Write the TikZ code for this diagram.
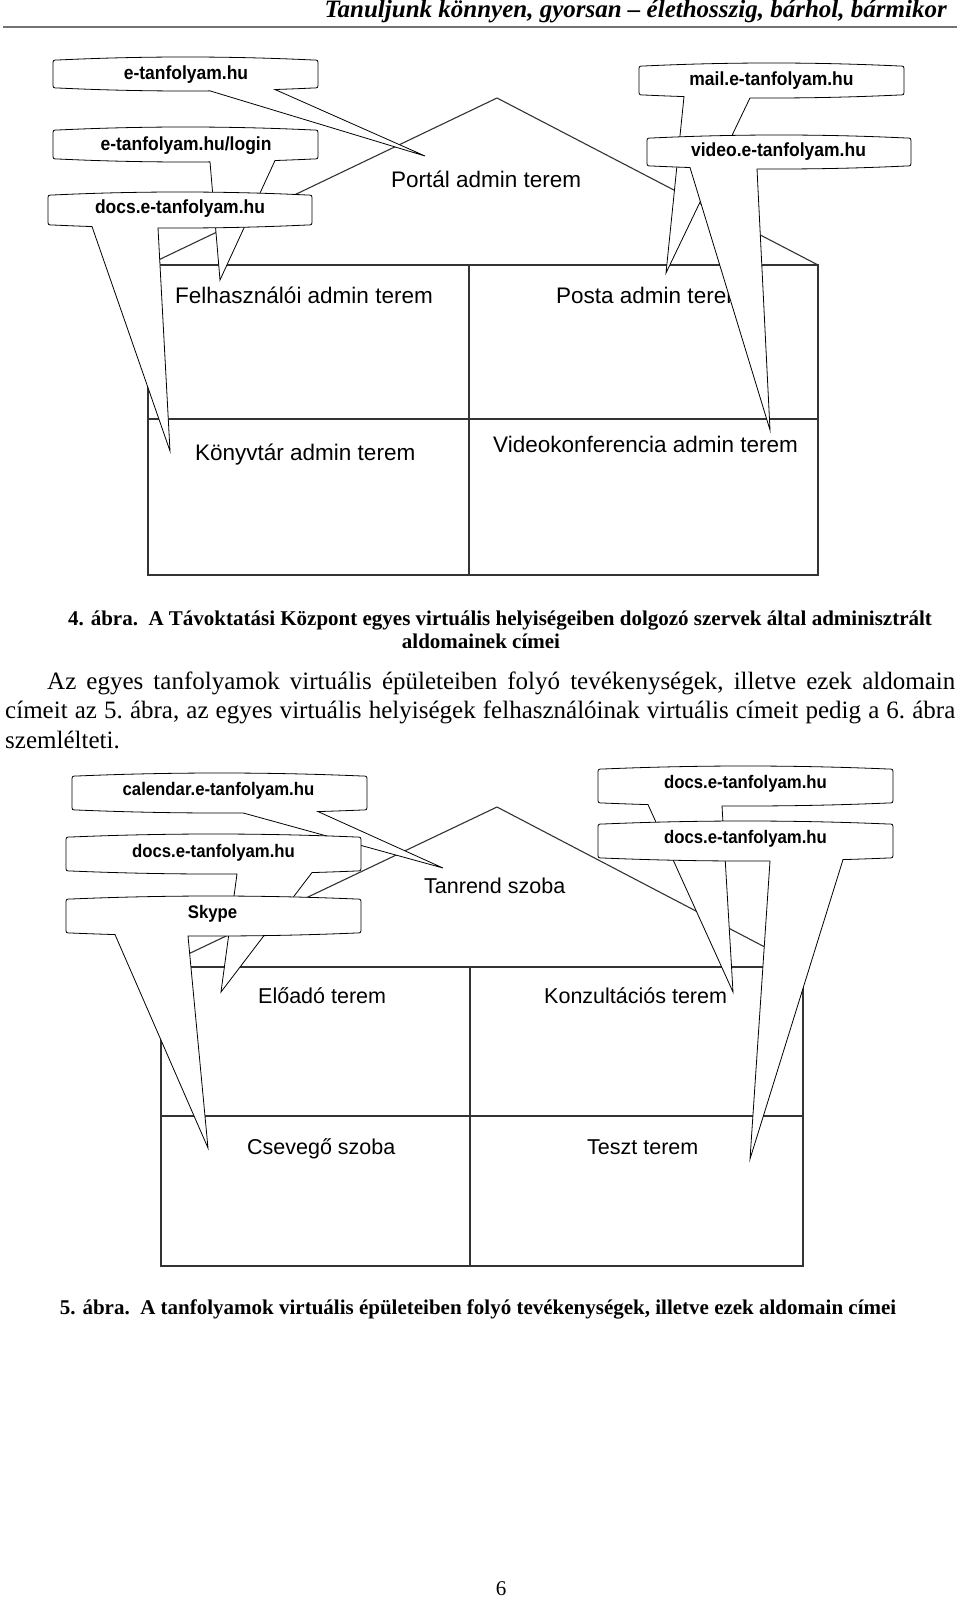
\documentclass[tikz,border=0pt]{standalone}
\usepackage{fontspec}
\usetikzlibrary{calc}
\setmainfont{Liberation Serif}
\newfontfamily\arial{Liberation Sans}
\newfontfamily\arialc[FakeStretch=0.92]{Liberation Sans}
\def\Bbow{3}
\def\Brad{5}
\newcommand\balloonshape[8]{%
  \pgfmathsetmacro\Bxc{(#1+#3)/2}%
  \pgfmathsetmacro\Bh{(#3-#1)/2-\Brad}%
  \pgfmathsetmacro\uR{(#6-\Bxc)/\Bh}%
  \pgfmathsetmacro\yR{#4-\Bbow*\uR*\uR}%
  \pgfmathsetmacro\qRx{(#3-\Brad+#6)/2}%
  \pgfmathsetmacro\qRy{#4-\Bbow+\Bbow*(#3-\Brad-#6)/\Bh}%
  \pgfmathsetmacro\uL{(#5-\Bxc)/\Bh}%
  \pgfmathsetmacro\yL{#4-\Bbow*\uL*\uL}%
  \pgfmathsetmacro\qLx{(#1+\Brad+#5)/2}%
  \pgfmathsetmacro\qLy{#4-\Bbow+\Bbow*(#5-#1-\Brad)/\Bh}%
  \path[balloon] (#1,#2+\Bbow+\Brad)
    .. controls (#1,#2+\Bbow) .. (#1+\Brad,#2+\Bbow)
    .. controls ($(#1+\Brad,#2+\Bbow)!0.667!(\Bxc,#2-\Bbow)$) and ($(#3-\Brad,#2+\Bbow)!0.667!(\Bxc,#2-\Bbow)$) .. (#3-\Brad,#2+\Bbow)
    .. controls (#3,#2+\Bbow) .. (#3,#2+\Bbow+\Brad)
    -- (#3,#4-\Bbow-\Brad)
    .. controls (#3,#4-\Bbow) .. (#3-\Brad,#4-\Bbow)
    .. controls ($(#3-\Brad,#4-\Bbow)!0.667!(\qRx,\qRy)$) and ($(#6,\yR)!0.667!(\qRx,\qRy)$) .. (#6,\yR)
    -- (#7,#8)
    -- (#5,\yL)
    .. controls ($(#5,\yL)!0.667!(\qLx,\qLy)$) and ($(#1+\Brad,#4-\Bbow)!0.667!(\qLx,\qLy)$) .. (#1+\Brad,#4-\Bbow)
    .. controls (#1,#4-\Bbow) .. (#1,#4-\Bbow-\Brad)
    -- cycle;%
}
\begin{document}
\begin{tikzpicture}[x={(1pt,0)},y={(0,-1pt)},
  bld/.style={draw=black!80, line width=1.1pt},
  balloon/.style={fill=white, draw=black, line width=0.8pt},
  blab/.style={font=\arialc\bfseries\fontsize{19}{22}\selectfont, anchor=base, inner sep=0},
  blabb/.style={font=\arialc\bfseries\fontsize{18.2}{21}\selectfont, anchor=base, inner sep=0},
  room/.style={font=\arial\fontsize{22.5}{26}\selectfont, anchor=base west, inner sep=0},
  roomb/.style={font=\arial\fontsize{21.5}{26}\selectfont, anchor=base west, inner sep=0},
  capt/.style={font=\bfseries\fontsize{21}{24}\selectfont, anchor=base, inner sep=0}
]
\fill[white] (0,0) rectangle (960,1597);
\useasboundingbox (0,0) rectangle (960,1597);

% header
\node[anchor=base east, inner sep=0, font=\bfseries\itshape\fontsize{25}{28}\selectfont] (hdr) at (947,18) {Tanuljunk könnyen, gyorsan – élethosszig, bárhol, bármikor};
\coordinate (r1) at (3,27);
\coordinate (r2) at (957,27);
\draw[black!55, line width=1.5pt] (r1) -- (r2);

% ---------- figure 4 building ----------
\coordinate (a1) at (148,265);
\coordinate (b1) at (818,265);
\coordinate (c1) at (818,575);
\coordinate (d1) at (148,575);
\coordinate (p1) at (497,98);
\coordinate (m1t) at (469,265);
\coordinate (m1b) at (469,575);
\coordinate (h1l) at (148,419);
\coordinate (h1r) at (818,419);
\draw[bld] (a1) -- (b1) -- (c1) -- (d1) -- cycle;
\draw[bld] (a1) -- (p1) -- (b1);
\draw[bld] (m1t) -- (m1b);
\draw[bld] (h1l) -- (h1r);

\node[room] (portal) at (391,188) {Portál admin terem};
\node[room] (felh) at (175,303) {Felhasználói admin terem};
\node[room] (posta) at (556,303) {Posta admin terem};
\node[room] (konyv) at (195,460) {Könyvtár admin terem};
\node[room] (video) at (493,452) {Videokonferencia admin terem};

\balloonshape{53}{57}{318}{91}{210}{275}{425}{156}
\node[blab] (t1) at (186,80) {e-tanfolyam.hu};
\balloonshape{53}{127}{318}{162}{210}{275}{220}{280}
\node[blab] (t2) at (186,151) {e-tanfolyam.hu/login};
\balloonshape{48}{192}{312}{228}{92}{158}{170}{451}
\node[blab] (t3) at (180,214) {docs.e-tanfolyam.hu};
\balloonshape{639}{63}{904}{98}{684}{750}{666}{273}
\node[blab] (t4) at (771.5,86) {mail.e-tanfolyam.hu};
\balloonshape{647}{135}{911}{169}{690}{757}{770}{430}
\node[blab] (t5) at (778.5,157) {video.e-tanfolyam.hu};

% caption 4
\node[capt] (cap4a) at (500,625) {4. ábra.\ \ A Távoktatási Központ egyes virtuális helyiségeiben dolgozó szervek által adminisztrált};
\node[capt] (cap4b) at (481,648) {aldomainek címei};

% body text
\node[anchor=base west, inner sep=0, font=\fontsize{25}{29.5}\selectfont] (body) at (5,689)
 {\parbox[t]{950pt}{\frenchspacing\baselineskip=29.5pt\hspace*{42pt}Az egyes tanfolyamok virtuális épületeiben folyó tevékenységek, illetve ezek aldomain\linebreak címeit az 5. ábra, az egyes virtuális helyiségek felhasználóinak virtuális címeit pedig a 6. ábra\linebreak szemlélteti.}};

% ---------- figure 5 building ----------
\coordinate (a2) at (161,967);
\coordinate (b2) at (803,967);
\coordinate (c2) at (803,1266);
\coordinate (d2) at (161,1266);
\coordinate (p2) at (497,807);
\coordinate (m2t) at (470,967);
\coordinate (m2b) at (470,1266);
\coordinate (h2l) at (161,1116);
\coordinate (h2r) at (803,1116);
\draw[bld] (a2) -- (b2) -- (c2) -- (d2) -- cycle;
\draw[bld] (a2) -- (p2) -- (b2);
\draw[bld] (m2t) -- (m2b);
\draw[bld] (h2l) -- (h2r);

\node[roomb] (tanrend) at (424,893) {Tanrend szoba};
\node[roomb] (eload) at (258,1003) {Előadó terem};
\node[roomb] (konz) at (544,1003) {Konzultációs terem};
\node[roomb] (csev) at (247,1154) {Csevegő szoba};
\node[roomb] (teszt) at (587,1154) {Teszt terem};

\balloonshape{72}{773}{367}{813}{243}{318}{443}{868}
\node[blabb] (u1) at (218.5,795) {calendar.e-tanfolyam.hu};
\balloonshape{66}{834}{361}{874}{237}{312}{221}{992}
\node[blabb] (u2) at (213.5,857) {docs.e-tanfolyam.hu};
\balloonshape{66}{896}{361}{936}{115}{188}{208}{1148}
\node[blabb] (u3) at (212.5,918) {Skype};
\balloonshape{598}{766}{893}{806}{648}{722}{733}{992}
\node[blabb] (u4) at (745.5,788) {docs.e-tanfolyam.hu};
\balloonshape{598}{821}{893}{861}{770}{843}{750}{1159}
\node[blabb] (u5) at (745.5,843) {docs.e-tanfolyam.hu};

% caption 5
\node[capt] (cap5) at (478,1314) {5. ábra.\ \ A tanfolyamok virtuális épületeiben folyó tevékenységek, illetve ezek aldomain címei};

% page number
\node[anchor=base, inner sep=0, font=\fontsize{21}{24}\selectfont] (pg) at (501,1595) {6};
\end{tikzpicture}
\end{document}
